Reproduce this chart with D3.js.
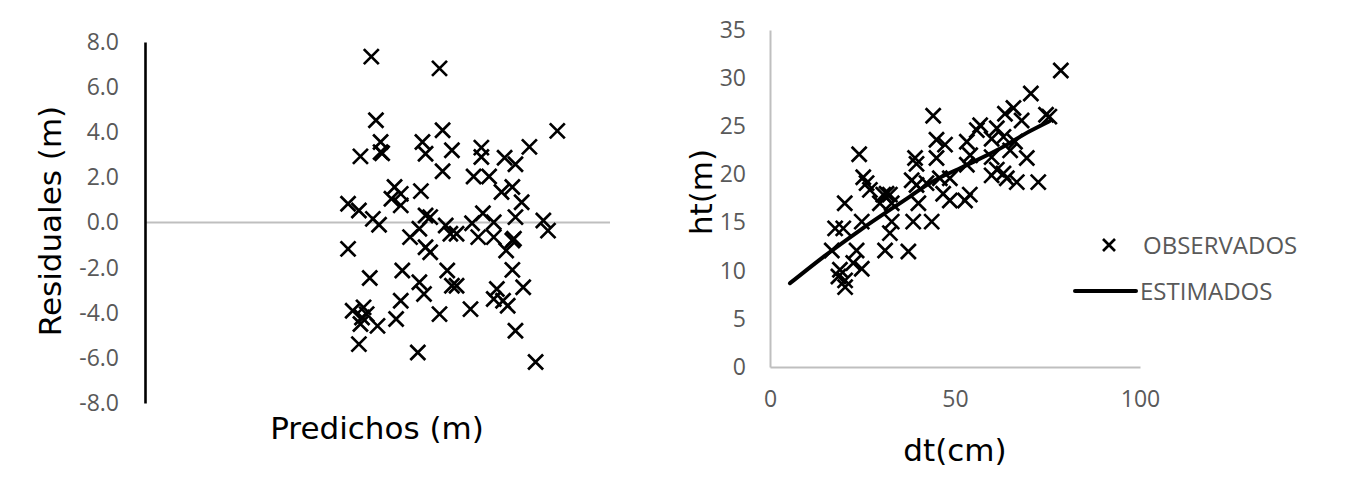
<!DOCTYPE html>
<html>
<head>
<meta charset="utf-8">
<script src="https://cdn.jsdelivr.net/npm/d3@7"></script>
<style>
    body { margin: 0; background: #fff; }
    text { font-family: "DejaVu Sans", Verdana, sans-serif; }
</style>
</head>
<body>
<div id="chart"></div>
<script>
//DATA ---------------------------------------------------------------------
// residual plot
const predichos = [14.6,19.0,14.9,19.2,15.2,13.9,15.2,15.3,17.9,18.1,19.8,19.2,16.1,16.5,15.9,16.5,17.8,13.1,13.8,14.7,
    15.1,18.1,18.4,17.7,17.1,19.4,19.7,13.1,18.1,18.4,16.6,14.5,17.7,18.0,16.5,19.5,19.8,13.4,14.1,14.0,
    13.9,15.0,16.2,13.8,19.0,17.6,14.3,26.6,24.8,21.7,23.2,23.9,21.7,21.2,22.2,23.0,23.7,24.3,21.8,23.9,
    25.7,26.0,21.1,20.1,21.5,22.5,22.5,23.7,23.3,23.8,23.7,20.1,22.7,22.5,24.4,23.4,21.0,23.1,23.9,25.2];
const residuales = [7.35,6.83,4.53,4.09,3.57,2.93,3.12,3.07,3.57,3.05,3.2,2.27,1.57,1.27,1.05,0.76,1.39,0.83,0.53,0.16,
    -0.10,0.31,0.24,-0.28,-0.65,-0.13,-0.5,-1.17,-1.1,-1.32,-2.13,-2.46,-2.65,-3.17,-3.47,-2.13,-2.8,-3.91,-3.76,-4.21,
    -4.5,-4.58,-4.28,-5.39,-4.06,-5.76,-4.06,4.06,3.35,3.32,2.87,2.58,2.9,2.04,2.04,1.35,1.57,0.9,0.41,0.24,
    0.09,-0.36,-0.03,-0.5,-0.65,0.01,-0.65,-0.8,-1.24,-0.72,-2.1,-2.8,-2.95,-3.39,-2.87,-3.69,-3.84,-3.47,-4.8,-6.18];
const residualTicks = [-8, -6, -4, -2, 0, 2, 4, 6, 8];

// height-diameter plot
const dtObs = [44.1,45.0,47.3,24.1,39.2,39.6,45.0,25.2,26.1,38.3,45.9,31.5,27.0,20.2,
    78.6,70.5,75.5,74.6,65.8,63.5,68.0,56.8,55.9,61.3,63.1,59.9,53.2,66.2,64.9,69.4,54.1,59.9,53.2,61.3,
    63.1,59.9,66.7,72.5,64.0,54.0,48.6,52.7,
    30.6,32.4,29.7,32.9,39.6,42.3,46.8,48.6,40.1,17.6,19.8,24.8,32.9,38.7,43.7,32.4,16.7,23.4,31.1,37.4,
    18.9,22.5,24.8,20.3,18.5,20.3];
const htObs = [26.1,23.6,23.1,22.1,21.7,21.1,21.7,19.7,19.1,19.4,19.6,18.0,18.4,17.0,
    30.8,28.4,26.0,26.2,26.9,26.3,25.6,25.1,24.6,24.8,23.9,23.7,23.4,23.4,22.5,21.7,22.0,21.8,21.0,20.5,
    20.1,19.9,19.2,19.2,19.6,17.9,19.6,17.3,
    17.9,17.9,17.0,17.0,18.9,19.1,18.0,17.3,17.0,14.4,14.4,15.1,15.1,15.1,15.1,13.9,12.1,12.1,12.1,12.0,
    10.1,10.8,10.2,9.0,9.4,8.3];
const dtEst = [5.4, 15, 24.3, 37.8, 43.2, 52.2, 61.3, 70.3, 75.4];
const htEst = [8.7, 11.6, 14.2, 17.7, 19.1, 20.8, 22.5, 24.5, 25.5];
const htTicks = [0, 5, 10, 15, 20, 25, 30, 35];
const dtTicks = [0, 50, 100];
const legendLabels = ["OBSERVADOS", "ESTIMADOS"];

//SETUP ---------------------------------------------------------------------
const width = 1348, height = 487;
const tickColor = "#595959";
const gridColor = "#bfbfbf";
const tickFont = '"Open Sans", "Segoe UI", sans-serif';

const svg = d3.select("#chart").append("svg")
    .attr("width", width)
    .attr("height", height);

// x marker path centered on 0,0
const crossPath = (r) => `M${-r},${-r}L${r},${r}M${-r},${r}L${r},${-r}`;

function drawCrosses(g, xs, ys, xScale, yScale, r){
    g.selectAll("path.cross")
        .data(xs.map((x, i) => [x, ys[i]]))
        .enter()
        .append("path")
        .attr("class", "cross")
        .attr("d", crossPath(r))
        .attr("transform", d => `translate(${xScale(d[0])},${yScale(d[1])})`)
        .style("fill", "none")
        .style("stroke", "#000")
        .style("stroke-width", 2.7);
}

function styleTicks(g){
    g.selectAll(".tick text")
        .style("font-family", tickFont)
        .style("font-size", "23px")
        .style("fill", tickColor);
}

//LEFT CHART: residuales ---------------------------------------------------
const xPred = d3.scaleLinear().domain([0, 30]).range([145, 610]);
const yRes = d3.scaleLinear().domain([-8, 8]).range([403, 42]);

const left = svg.append("g").attr("class", "residuales");

left.append("line")
    .attr("x1", xPred(0)).attr("x2", xPred(30))
    .attr("y1", yRes(0)).attr("y2", yRes(0))
    .style("stroke", gridColor)
    .style("stroke-width", 2);

// excel uses a plain hyphen for negatives
const resFormat = d => d3.format(".1f")(d).replace("−", "-");

const yResAxis = d3.axisLeft(yRes)
    .tickValues(residualTicks)
    .tickFormat(resFormat)
    .tickSize(0)
    .tickPadding(26);

left.append("g")
    .attr("transform", `translate(${xPred(0)},0)`)
    .call(yResAxis)
    .call(g => g.select(".domain").style("stroke", "#000").style("stroke-width", 2.6))
    .call(styleTicks);

drawCrosses(left, predichos, residuales, xPred, yRes, 7.5);

left.append("text")
    .attr("transform", `translate(61, 221) rotate(-90)`)
    .attr("text-anchor", "middle")
    .style("font-size", "31px")
    .text("Residuales (m)");

left.append("text")
    .attr("x", 377).attr("y", 439)
    .attr("text-anchor", "middle")
    .style("font-size", "31px")
    .text("Predichos (m)");

//RIGHT CHART: ht vs dt ------------------------------------------------------
const xDt = d3.scaleLinear().domain([0, 100]).range([770, 1140]);
const yHt = d3.scaleLinear().domain([0, 35]).range([367, 30]);

const right = svg.append("g").attr("class", "ht-dt");

const yHtAxis = d3.axisLeft(yHt).tickValues(htTicks).tickSize(0).tickPadding(24);
const xDtAxis = d3.axisBottom(xDt).tickValues(dtTicks).tickSize(0).tickPadding(24);

right.append("g")
    .attr("transform", `translate(${xDt(0)},0)`)
    .call(yHtAxis)
    .call(g => g.select(".domain").style("stroke", gridColor).style("stroke-width", 2))
    .call(styleTicks);

right.append("g")
    .attr("transform", `translate(0,${yHt(0)})`)
    .call(xDtAxis)
    .call(g => g.select(".domain").style("stroke", gridColor).style("stroke-width", 2))
    .call(styleTicks);

drawCrosses(right, dtObs, htObs, xDt, yHt, 7.5);

const estLine = d3.line()
    .x(d => xDt(d[0]))
    .y(d => yHt(d[1]))
    .curve(d3.curveMonotoneX);

right.append("path")
    .datum(dtEst.map((d, i) => [d, htEst[i]]))
    .attr("d", estLine)
    .style("fill", "none")
    .style("stroke", "#000")
    .style("stroke-width", 4)
    .style("stroke-linecap", "round");

right.append("text")
    .attr("transform", `translate(712, 192) rotate(-90)`)
    .attr("text-anchor", "middle")
    .style("font-size", "31px")
    .text("ht(m)");

right.append("text")
    .attr("x", xDt(50)).attr("y", 461)
    .attr("text-anchor", "middle")
    .style("font-size", "31px")
    .text("dt(cm)");

//LEGEND ---------------------------------------------------------------------
const legend = right.append("g").attr("class", "legend");

legend.append("path")
    .attr("d", crossPath(6))
    .attr("transform", "translate(1109,245)")
    .style("fill", "none")
    .style("stroke", "#000")
    .style("stroke-width", 2.7);

legend.append("line")
    .attr("x1", 1075).attr("x2", 1136)
    .attr("y1", 291).attr("y2", 291)
    .style("stroke", "#000")
    .style("stroke-width", 4)
    .style("stroke-linecap", "round");

legend.selectAll("text.legend-label")
    .data(legendLabels)
    .enter()
    .append("text")
    .attr("class", "legend-label")
    .attr("x", (d, i) => i === 0 ? 1143 : 1140)
    .attr("y", (d, i) => i === 0 ? 245 : 291)
    .attr("dy", "0.36em")
    .style("font-family", tickFont)
    .style("font-size", "24px")
    .style("fill", tickColor)
    .text(d => d);
</script>
</body>
</html>
